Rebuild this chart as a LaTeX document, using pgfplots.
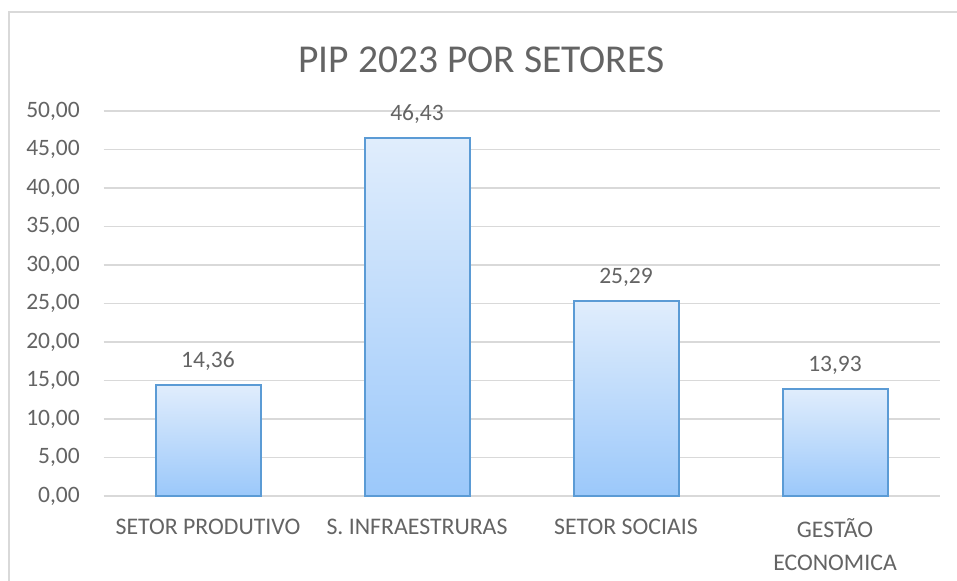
\documentclass[border=0pt]{standalone}
\usepackage{fontspec}
\setmainfont{Carlito}
\usepackage{pgfplots}
\pgfplotsset{compat=1.18}
\definecolor{txt}{HTML}{646464}
\definecolor{gridc}{HTML}{D9D9D9}
\definecolor{barline}{HTML}{5B9BD5}
\definecolor{bartop}{RGB}{224,237,252}
\definecolor{barbot}{RGB}{155,200,250}
\begin{document}
\begin{tikzpicture}[x=1bp,y=1bp]
\useasboundingbox (0,0) rectangle (957,581);
\fill[white] (0,0) rectangle (957,581);
\draw[gridc, line width=1.5bp] (9,0) -- (9,569) -- (957,569);
\begin{axis}[
  at={(103.5bp,85bp)}, anchor=south west,
  scale only axis, width=836bp, height=385bp,
  xmin=-0.5, xmax=3.5, ymin=0, ymax=50,
  ytick={0,5,...,50},
  xtick={0,1,2,3},
  xticklabels={SETOR PRODUTIVO, S. INFRAESTRURAS, SETOR SOCIAIS, {GESTÃO\\ECONOMICA}},
  axis line style={draw=none},
  major tick length=0pt,
  ymajorgrids, grid style={gridc, line width=1.2bp},
  /pgf/number format/.cd, use comma, fixed, fixed zerofill, precision=2, assume math mode=true,
  /pgfplots/.cd,
  yticklabel style={inner sep=0pt, anchor=east, xshift=-23.5bp, text=txt, font=\fontsize{23.5bp}{28bp}\selectfont},
  xticklabel style={inner sep=0pt, anchor=north, yshift=-22.5bp, text=txt, align=center, font=\fontsize{23.8bp}{33bp}\selectfont},
  clip=false,
  nodes near coords,
  every node near coord/.append style={inner sep=0pt, anchor=base, yshift=17.5bp, text=txt, font=\fontsize{23.5bp}{28bp}\selectfont},
  ybar, bar width=105bp, bar shift=0pt,
]
\addplot[draw=barline, line width=2bp, top color=bartop, bottom color=barbot] coordinates {(0,14.36)};
\addplot[draw=barline, line width=2bp, top color=bartop, bottom color=barbot] coordinates {(1,46.43)};
\addplot[draw=barline, line width=2bp, top color=bartop, bottom color=barbot] coordinates {(2,25.29)};
\addplot[draw=barline, line width=2bp, top color=bartop, bottom color=barbot] coordinates {(3,13.93)};
\end{axis}
\node[text=txt, font=\fontsize{39.5bp}{46bp}\selectfont, inner sep=0pt] at (481.5,521) {PIP 2023 POR SETORES};
\end{tikzpicture}
\end{document}
